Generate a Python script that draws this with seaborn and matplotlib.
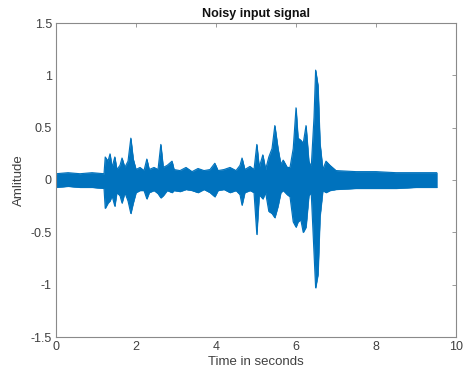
import matplotlib
matplotlib.use("Agg")
import matplotlib.pyplot as plt
import seaborn as sns
import numpy as np
import pandas as pd

# Envelope of the noisy signal (time in s, amplitude)
time_s = [0.00, 0.30, 0.60, 0.90, 1.20, 1.23, 1.30, 1.35, 1.40, 1.47, 1.52, 1.60, 1.65, 1.72,
          1.80, 1.87, 1.93, 2.00, 2.10, 2.20, 2.27, 2.33, 2.45, 2.55, 2.62, 2.68, 2.78, 2.90,
          2.95, 3.10, 3.25, 3.40, 3.55, 3.70, 3.85, 3.97, 4.05, 4.20, 4.35, 4.50, 4.60, 4.65,
          4.72, 4.85, 4.95, 5.02, 5.08, 5.17, 5.24, 5.32, 5.40, 5.47, 5.55, 5.62, 5.68, 5.78,
          5.85, 5.93, 6.00, 6.05, 6.12, 6.18, 6.25, 6.32, 6.38, 6.45, 6.49, 6.55, 6.60, 6.67,
          6.75, 6.85, 7.00, 7.50, 8.00, 8.50, 9.00, 9.52]
upper_env = [0.06, 0.07, 0.06, 0.07, 0.06, 0.22, 0.18, 0.25, 0.12, 0.22, 0.10, 0.14, 0.21, 0.12,
             0.18, 0.40, 0.20, 0.10, 0.12, 0.09, 0.20, 0.10, 0.12, 0.10, 0.34, 0.12, 0.14, 0.18,
             0.10, 0.09, 0.12, 0.08, 0.11, 0.09, 0.10, 0.16, 0.09, 0.10, 0.12, 0.09, 0.14, 0.21,
             0.10, 0.13, 0.10, 0.34, 0.12, 0.24, 0.10, 0.22, 0.30, 0.52, 0.30, 0.15, 0.19, 0.12,
             0.12, 0.30, 0.69, 0.40, 0.38, 0.35, 0.52, 0.18, 0.12, 0.60, 1.05, 0.90, 0.35, 0.10,
             0.18, 0.14, 0.09, 0.08, 0.08, 0.07, 0.07, 0.07]
lower_env = [-0.07, -0.06, -0.07, -0.07, -0.08, -0.27, -0.22, -0.20, -0.15, -0.25, -0.12, -0.15,
             -0.22, -0.12, -0.20, -0.32, -0.22, -0.12, -0.10, -0.10, -0.18, -0.12, -0.10, -0.13,
             -0.17, -0.15, -0.10, -0.12, -0.10, -0.11, -0.09, -0.10, -0.12, -0.09, -0.12, -0.16,
             -0.10, -0.09, -0.12, -0.10, -0.14, -0.24, -0.12, -0.10, -0.12, -0.52, -0.14, -0.18,
             -0.12, -0.30, -0.32, -0.36, -0.25, -0.12, -0.10, -0.14, -0.16, -0.40, -0.45, -0.40,
             -0.38, -0.50, -0.45, -0.15, -0.12, -0.70, -1.03, -0.90, -0.35, -0.10, -0.12, -0.10,
             -0.09, -0.08, -0.08, -0.08, -0.07, -0.07]

x_ticks = [0, 2, 4, 6, 8, 10]
y_ticks = [-1.5, -1, -0.5, 0, 0.5, 1, 1.5]
y_tick_labels = ["-1.5", "-1", "-0.5", "0", "0.5", "1", "1.5"]

sns.set_theme(style="white")
plt.rcParams['font.family'] = ['Liberation Sans', 'DejaVu Sans']

line_color = "#0072BD"
grey = "#8a8a8a"
text_c = "#404040"

df = pd.DataFrame({"t": time_s, "upper": upper_env, "lower": lower_env})

fig = plt.figure(figsize=(4.65, 3.83), dpi=100)
ax = fig.add_axes([56/465, 1-337/383, 400/465, (337-23)/383])

ax.fill_between(df["t"], df["lower"], df["upper"], facecolor=line_color,
                edgecolor=line_color, linewidth=0.4, antialiased=False)
sns.lineplot(data=df, x="t", y="upper", ax=ax, color=line_color, linewidth=0.8,
             estimator=None, sort=False)
sns.lineplot(data=df, x="t", y="lower", ax=ax, color=line_color, linewidth=0.8,
             estimator=None, sort=False)

ax.set_xlim(0, 10)
ax.set_ylim(-1.5, 1.5)
ax.set_xticks(x_ticks)
ax.set_xticklabels([str(v) for v in x_ticks])
ax.set_yticks(y_ticks)
ax.set_yticklabels(y_tick_labels)
ax.tick_params(direction="in", length=3, width=0.6, color=grey, labelsize=9,
               labelcolor=text_c, top=True, right=True, pad=3)
for s in ax.spines.values():
    s.set_color(grey)
    s.set_linewidth(0.8)
ax.set_xlabel("Time in seconds", fontsize=9.5, color=text_c, labelpad=2)
ax.set_ylabel("Amlitude", fontsize=9.5, color=text_c, labelpad=4)
ax.set_title("Noisy input signal", fontsize=9, fontweight="bold", color="#111111", pad=4)

fig.savefig("out.png", dpi=100)
